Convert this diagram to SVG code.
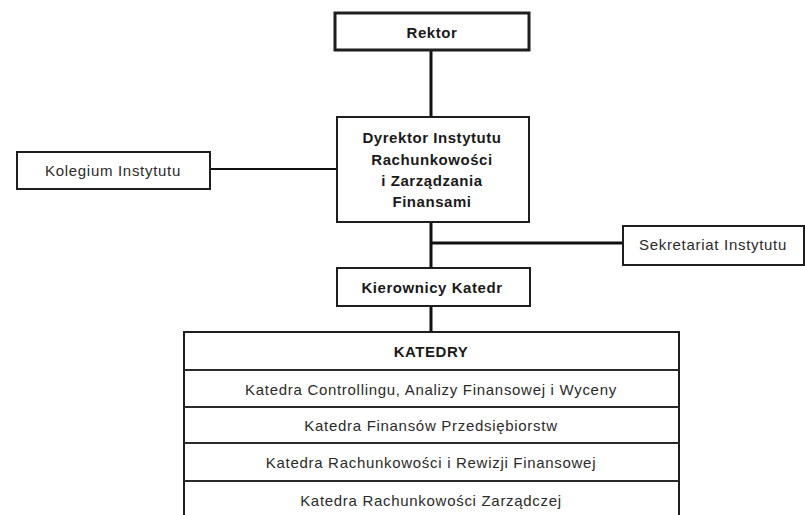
<svg xmlns="http://www.w3.org/2000/svg" width="805" height="515" viewBox="0 0 805 515">
  <style>
    .box { fill: #ffffff; stroke: #1e1e1e; stroke-width: 2; }
    .thick { stroke-width: 3; }
    .link { stroke: #111111; stroke-width: 3; fill: none; }
    .thin { stroke-width: 2; }
    .row { stroke: #2a2a2a; stroke-width: 2; }
    text { font-family: "Liberation Sans", Arial, sans-serif; fill: #2b2b2b; text-anchor: middle; dominant-baseline: central; }
    .b { font-weight: bold; font-size: 15px; letter-spacing: 0.55px; fill: #1a1a1a; }
    .n { font-size: 15px; letter-spacing: 0.7px; }
  </style>
  <rect width="805" height="515" fill="#ffffff"/>

  <g id="connectors">
    <line class="link" x1="431" y1="50" x2="431" y2="117"/>
    <line class="link thin" x1="210" y1="169" x2="337" y2="169"/>
    <line class="link" x1="431" y1="222" x2="431" y2="268"/>
    <line class="link" x1="431" y1="243" x2="623" y2="243"/>
    <line class="link" x1="431" y1="306" x2="431" y2="332"/>
  </g>

  <g id="rektor">
    <rect class="box thick" x="335" y="13" width="194" height="37"/>
    <text class="b" x="432" y="32">Rektor</text>
  </g>

  <g id="dyrektor">
    <rect class="box" x="337" y="117" width="192" height="105"/>
    <text class="b" x="432" y="137">Dyrektor Instytutu</text>
    <text class="b" x="432" y="159">Rachunkowości</text>
    <text class="b" x="432" y="180">i Zarządzania</text>
    <text class="b" x="432" y="201">Finansami</text>
  </g>

  <g id="kolegium">
    <rect class="box" x="17" y="152" width="193" height="37"/>
    <text class="n" x="113" y="170">Kolegium Instytutu</text>
  </g>

  <g id="sekretariat">
    <rect class="box" x="623" y="226" width="181" height="39"/>
    <text class="n" x="713" y="244">Sekretariat Instytutu</text>
  </g>

  <g id="kierownicy">
    <rect class="box" x="337" y="268" width="193" height="38"/>
    <text class="b" x="432" y="287">Kierownicy Katedr</text>
  </g>

  <g id="katedry">
    <rect class="box" x="184" y="332" width="495" height="190"/>
    <line class="row" x1="184" y1="370" x2="679" y2="370"/>
    <line class="row" x1="184" y1="407" x2="679" y2="407"/>
    <line class="row" x1="184" y1="443" x2="679" y2="443"/>
    <line class="row" x1="184" y1="481" x2="679" y2="481"/>
    <text class="b" x="431" y="351">KATEDRY</text>
    <text class="n" x="431" y="389">Katedra Controllingu, Analizy Finansowej i Wyceny</text>
    <text class="n" x="431" y="425">Katedra Finansów Przedsiębiorstw</text>
    <text class="n" x="431" y="462">Katedra Rachunkowości i Rewizji Finansowej</text>
    <text class="n" x="431" y="500">Katedra Rachunkowości Zarządczej</text>
  </g>
</svg>
